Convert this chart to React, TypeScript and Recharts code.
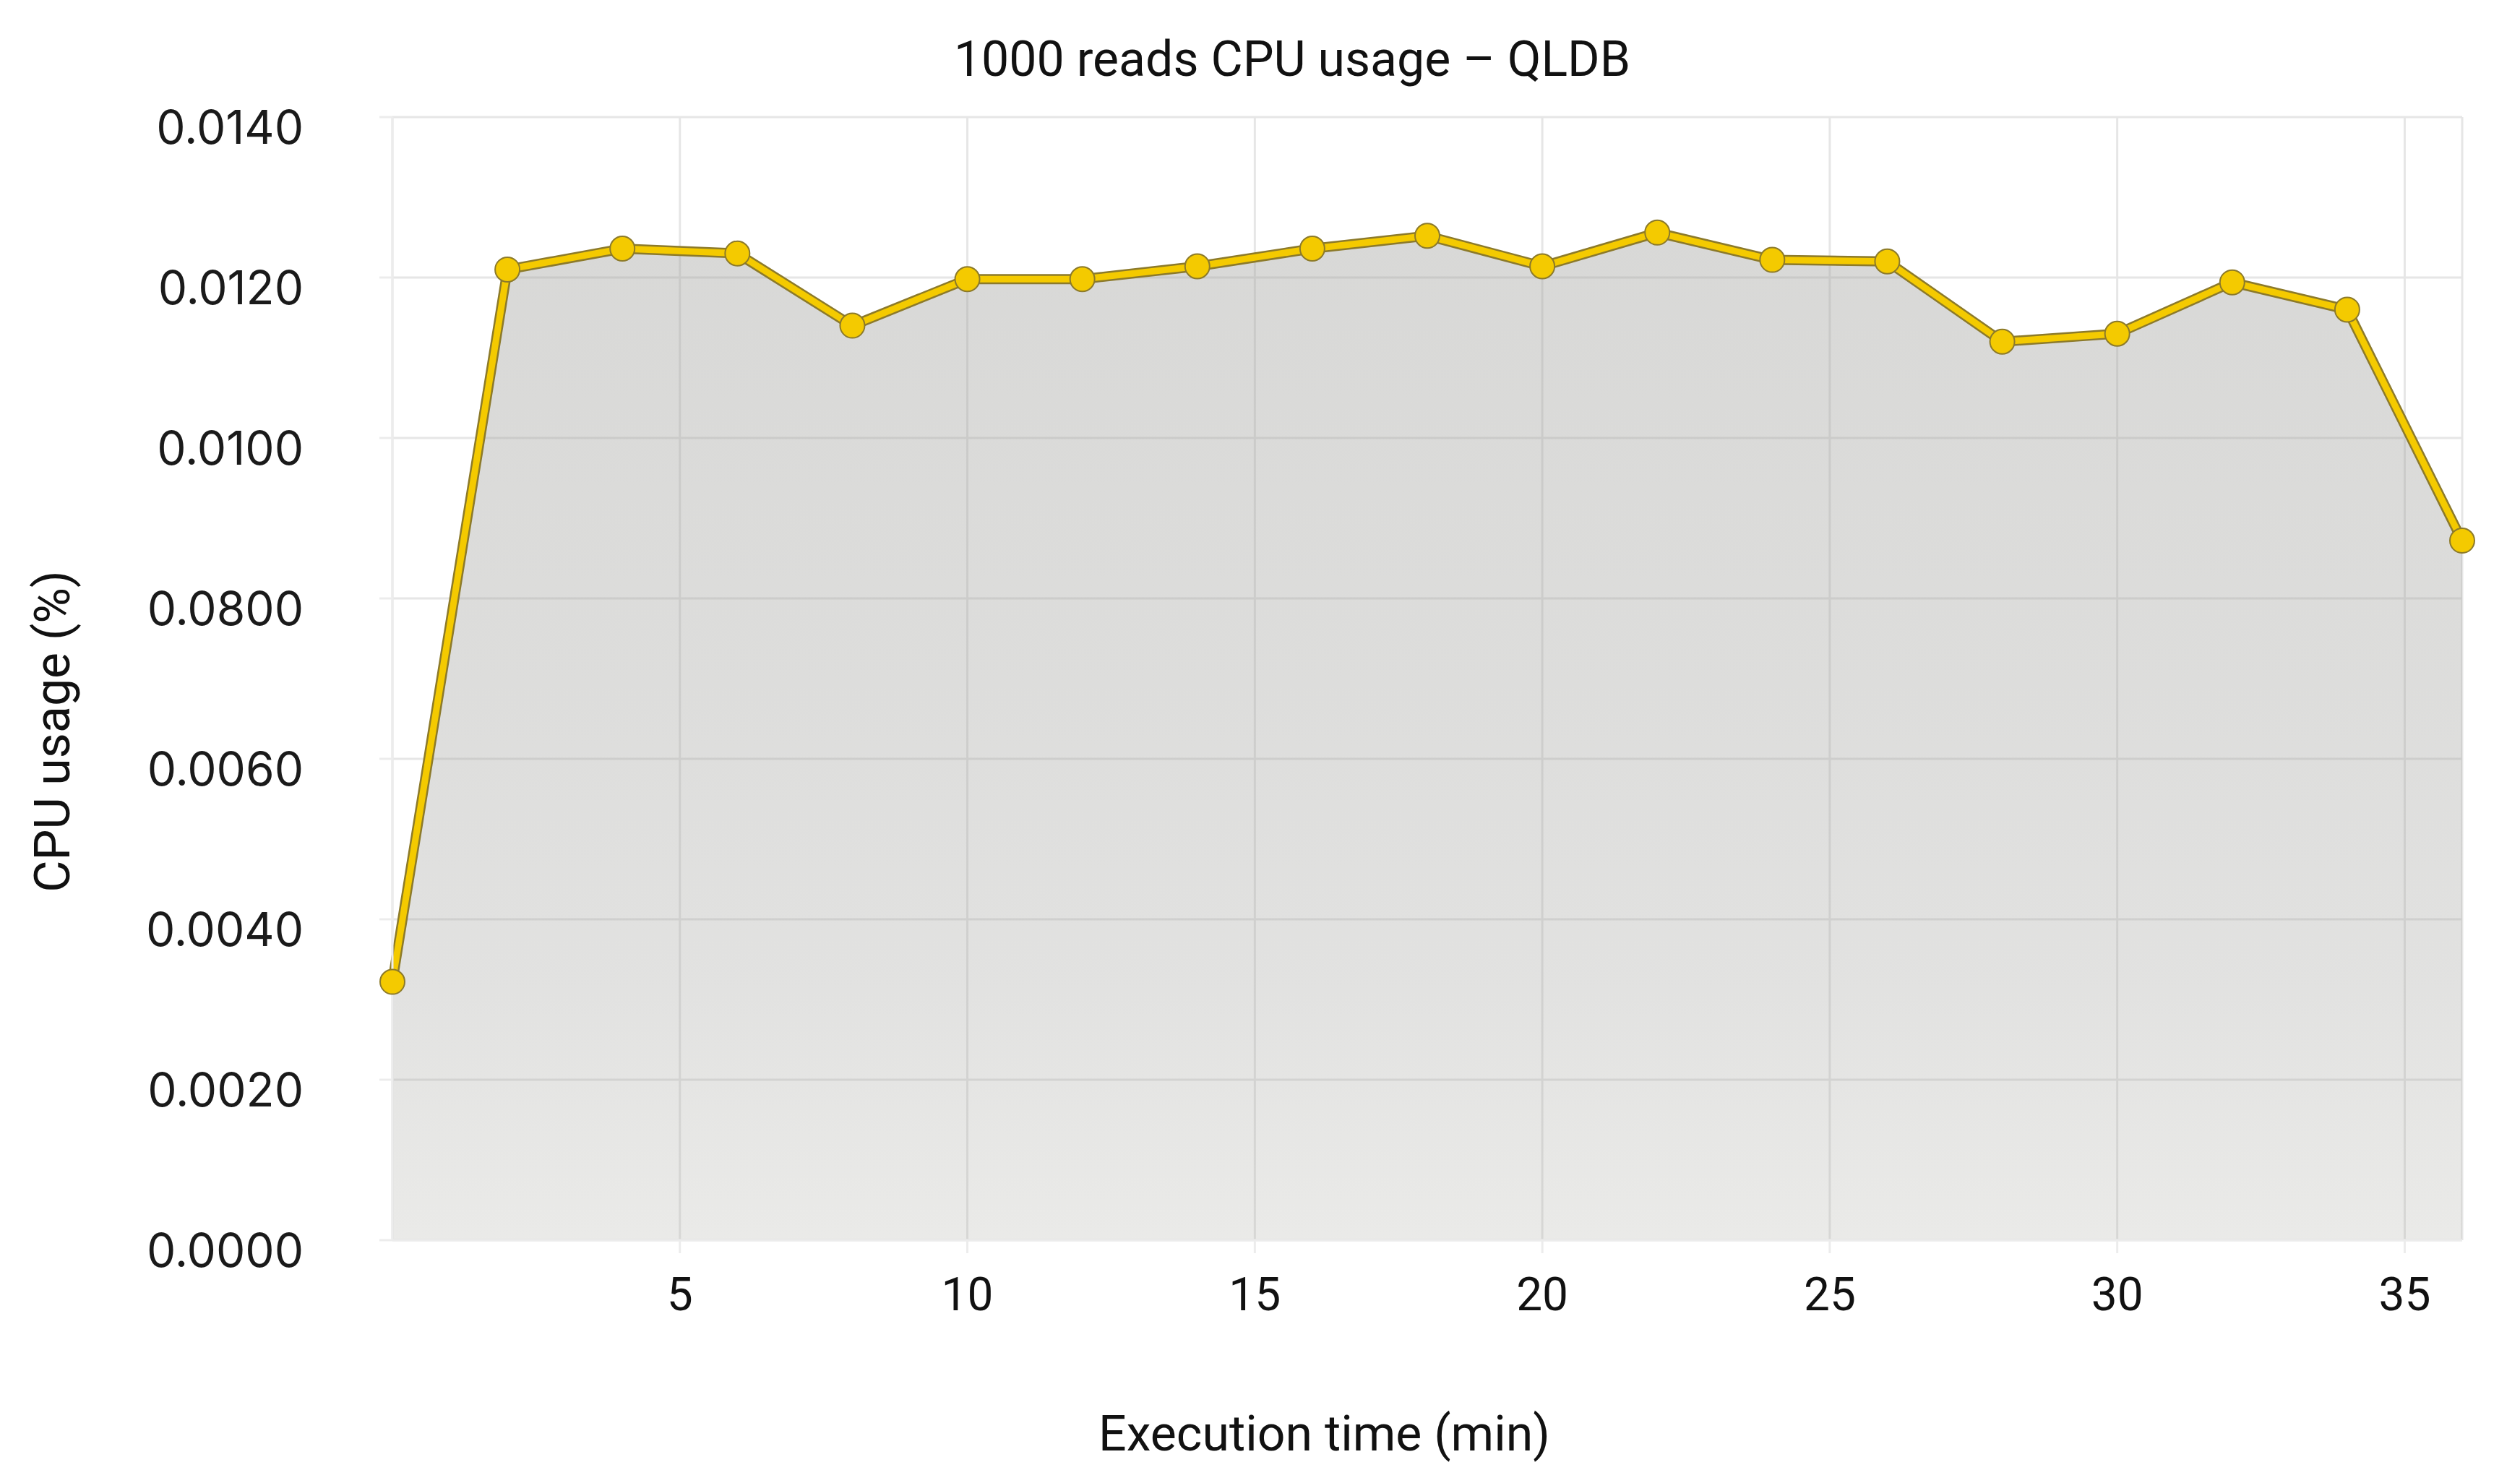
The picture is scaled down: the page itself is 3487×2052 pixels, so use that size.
import { ComposedChart, Area, Line, XAxis, YAxis, CartesianGrid } from "recharts";

// execution time (min) and CPU usage
const minutes = [0, 2, 4, 6, 8, 10, 12, 14, 16, 18, 20, 22, 24, 26, 28, 30, 32, 34, 36];
const cpuUsage = [
  0.00322, 0.0121, 0.01236, 0.0123, 0.0114, 0.01198, 0.01198, 0.01214, 0.01236, 0.01252,
  0.01214, 0.01256, 0.01222, 0.0122, 0.0112, 0.0113, 0.01194, 0.0116, 0.00872,
];
const xTicks = [5, 10, 15, 20, 25, 30, 35];
const yTicks = [0, 0.002, 0.004, 0.006, 0.008, 0.01, 0.012, 0.014];
// the source labels the 0.008 line as "0.0800"
const yTickLabels = ["0.0000", "0.0020", "0.0040", "0.0060", "0.0800", "0.0100", "0.0120", "0.0140"];

const data = minutes.map((t, i) => ({ t, cpu: cpuUsage[i] }));

const YELLOW = "#f4ca00";
const OUTLINE = "#8c7a2a";

export default function App() {
  return (
    <div style={{ position: "absolute", left: 0, top: 0, width: 3487, height: 2052, background: "#fff" }}>
      <ComposedChart
        width={3487}
        height={2052}
        data={data}
        margin={{ top: 162, right: 80, bottom: 0, left: 0 }}
      >
        <defs>
          <linearGradient id="cpuFill" x1="0" y1="0" x2="0" y2="1">
            <stop offset="0%" stopColor="#9e9e9a" stopOpacity={0.4} />
            <stop offset="45%" stopColor="#9e9e9a" stopOpacity={0.35} />
            <stop offset="75%" stopColor="#9e9e9a" stopOpacity={0.3} />
            <stop offset="100%" stopColor="#a8a8a0" stopOpacity={0.24} />
          </linearGradient>
        </defs>
        <CartesianGrid stroke="#e6e6e6" strokeWidth={3} />
        <XAxis
          dataKey="t"
          type="number"
          domain={[0, 36]}
          ticks={xTicks}
          height={336}
          axisLine={{ stroke: "#ececec", strokeWidth: 3 }}
          tickLine={{ stroke: "#ececec", strokeWidth: 3 }}
          tickSize={18}
          tickMargin={34}
          tick={{ fill: "#111", fontSize: 64, fontFamily: "Roboto" }}
        />
        <YAxis
          type="number"
          domain={[0, 0.014]}
          ticks={yTicks}
          width={543}
          axisLine={{ stroke: "#ececec", strokeWidth: 3 }}
          tickLine={{ stroke: "#ececec", strokeWidth: 3 }}
          tickSize={18}
          tickMargin={105}
          tickFormatter={(v: number) => yTickLabels[yTicks.indexOf(v)] ?? String(v)}
          tick={{ fill: "#1a1a1a", fontSize: 64, fontFamily: "Inter", dy: 14 }}
        />
        <Area
          dataKey="cpu"
          type="linear"
          stroke="none"
          fill="url(#cpuFill)"
          fillOpacity={1}
          isAnimationActive={false}
        />
        <Line
          dataKey="cpu"
          type="linear"
          stroke={OUTLINE}
          strokeWidth={14}
          dot={false}
          activeDot={false}
          isAnimationActive={false}
        />
        <Line
          dataKey="cpu"
          type="linear"
          stroke={YELLOW}
          strokeWidth={9}
          dot={{ r: 17, fill: YELLOW, stroke: OUTLINE, strokeWidth: 2 }}
          activeDot={false}
          isAnimationActive={false}
        />
      </ComposedChart>

      <div
        style={{
          position: "absolute", left: 0, width: 3576, top: 40, textAlign: "center",
          fontFamily: "Roboto", fontSize: 68, color: "#111", lineHeight: "84px",
        }}
      >
        1000 reads CPU usage – QLDB
      </div>
      <div
        style={{
          position: "absolute", left: 0, width: 3665, top: 1942, textAlign: "center",
          fontFamily: "Roboto", fontSize: 68, color: "#111", lineHeight: "84px",
        }}
      >
        Execution time (min)
      </div>
      <div
        style={{
          position: "absolute", left: 73, top: 1012, transform: "translate(-50%, -50%) rotate(-90deg)",
          whiteSpace: "nowrap", fontFamily: "Roboto", fontSize: 68, color: "#111", lineHeight: "84px",
        }}
      >
        CPU usage (%)
      </div>
    </div>
  );
}
